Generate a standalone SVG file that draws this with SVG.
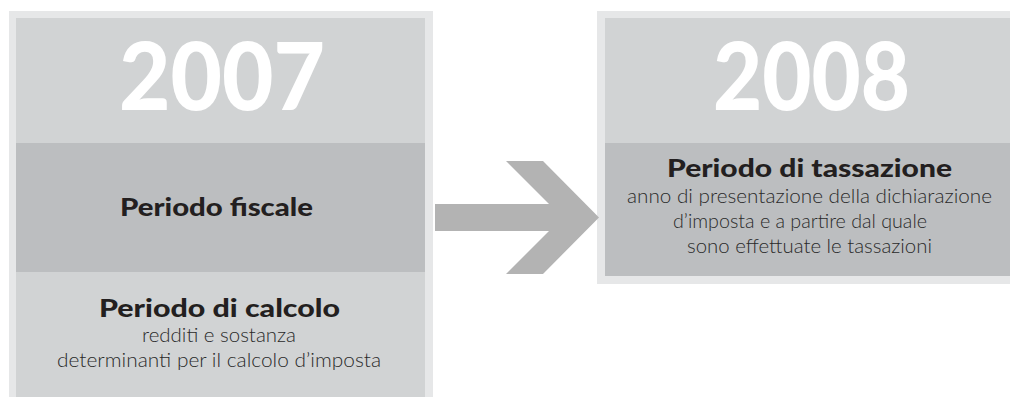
<svg xmlns="http://www.w3.org/2000/svg" width="1010" height="397" viewBox="0 0 1010 397">
  <style>
    .frame { fill: #e6e7e8; }
    .light { fill: #d1d3d4; }
    .dark { fill: #bcbec0; }
    .year { font-family: Lato, "Open Sans", sans-serif; font-weight: 900; font-size: 94px; fill: #ffffff; text-anchor: middle; }
    .title { font-family: Lato, "Open Sans", sans-serif; font-weight: 900; font-size: 25px; fill: #231f20; text-anchor: middle; }
    .body { font-family: Lato, "Open Sans", sans-serif; font-weight: 300; font-size: 20.5px; fill: #2a2a2a; text-anchor: middle; }
  </style>
  <rect width="1010" height="397" fill="#ffffff"/>
  <g id="node-2007">
    <rect class="frame" x="9" y="11" width="424" height="400"/>
    <rect class="light" x="16" y="18" width="409" height="125"/>
    <rect class="dark" x="16" y="143" width="409" height="129"/>
    <rect class="light" x="16" y="272" width="409" height="130"/>
    <text class="year" x="222" y="110" textLength="206" lengthAdjust="spacingAndGlyphs">2007</text>
    <text class="title" x="216.5" y="216" textLength="193" lengthAdjust="spacingAndGlyphs">Periodo fiscale</text>
    <text class="title" x="219.5" y="317" textLength="241" lengthAdjust="spacingAndGlyphs">Periodo di calcolo</text>
    <text class="body" x="219" y="342" textLength="154" lengthAdjust="spacingAndGlyphs">redditi e sostanza</text>
    <text class="body" x="219" y="367" textLength="324" lengthAdjust="spacingAndGlyphs">determinanti per il calcolo d’imposta</text>
  </g>
  <g id="node-2008">
    <rect class="frame" x="597" y="11" width="430" height="273"/>
    <rect class="light" x="605" y="18" width="420" height="125"/>
    <rect class="dark" x="605" y="143" width="420" height="133"/>
    <text class="year" x="811.5" y="110" textLength="197" lengthAdjust="spacingAndGlyphs">2008</text>
    <text class="title" x="809.5" y="177" textLength="285" lengthAdjust="spacingAndGlyphs">Periodo di tassazione</text>
    <text class="body" x="809.5" y="203" textLength="365" lengthAdjust="spacingAndGlyphs">anno di presentazione della dichiarazione</text>
    <text class="body" x="800" y="228" textLength="254" lengthAdjust="spacingAndGlyphs">d’imposta e a partire dal quale</text>
    <text class="body" x="809.5" y="253" textLength="245" lengthAdjust="spacingAndGlyphs">sono effettuate le tassazioni</text>
  </g>
  <g id="connectors">
    <polygon fill="#b3b3b3" points="435,204 549,204 506,161 543,161 599,217.5 543,274 506,274 549,231 435,231"/>
  </g>
</svg>
